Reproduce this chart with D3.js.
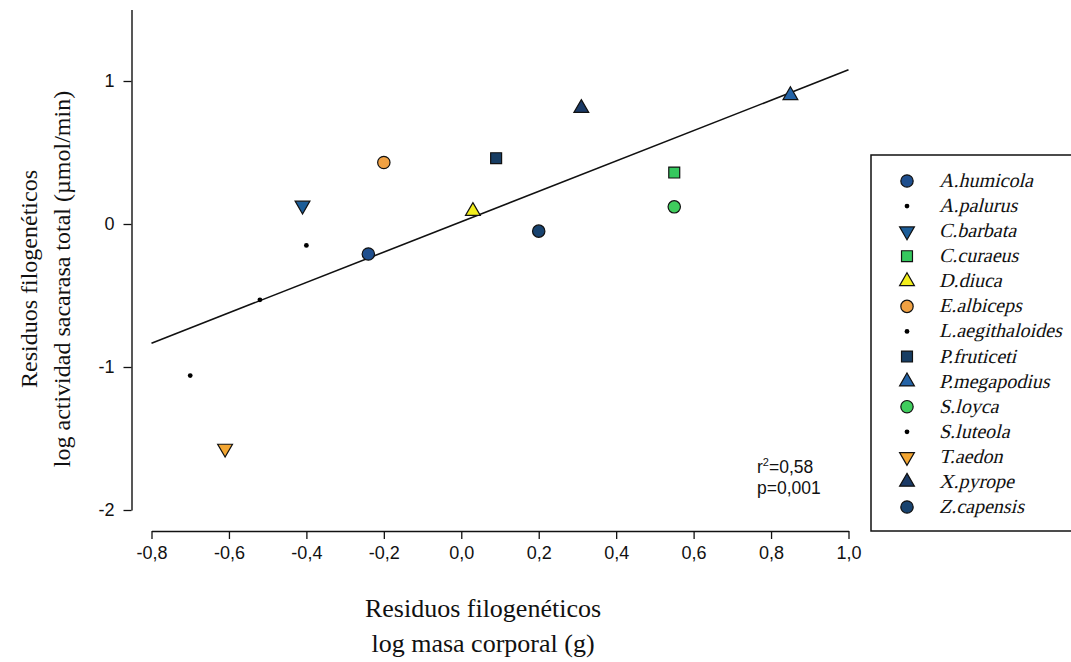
<!DOCTYPE html>
<html>
<head>
<meta charset="utf-8">
<script src="https://cdn.jsdelivr.net/npm/d3@7"></script>
<style>
  html, body { margin: 0; padding: 0; background: #fff; }
  svg { display: block; }
  .serif { font-family: "Liberation Serif", "Times New Roman", Times, serif; }
  .sans { font-family: "Liberation Sans", Arial, Helvetica, sans-serif; }
</style>
</head>
<body>
<svg id="chart" width="1071" height="662"></svg>
<script>
// Species and their phylogenetic residuals
const species = ["A.humicola", "A.palurus", "C.barbata", "C.curaeus", "D.diuca", "E.albiceps",
  "L.aegithaloides", "P.fruticeti", "P.megapodius", "S.loyca", "S.luteola", "T.aedon",
  "X.pyrope", "Z.capensis"];
const massResidual = [-0.24, -0.40, -0.41, 0.55, 0.03, -0.20, -0.52, 0.09, 0.85, 0.55, -0.70, -0.61, 0.31, 0.20];
const sucraseResidual = [-0.21, -0.15, 0.13, 0.36, 0.09, 0.43, -0.53, 0.46, 0.90, 0.12, -1.06, -1.57, 0.81, -0.05];
const markerShape = ["circle", "dot", "triangleDown", "square", "triangle", "circle",
  "dot", "square", "triangle", "circle", "dot", "triangleDown", "triangle", "circle"];
const markerColor = ["#1f4f8e", "#000000", "#1c5d98", "#35c85e", "#f2ee1c", "#f0a143",
  "#000000", "#173d63", "#2463a6", "#3fcd5d", "#000000", "#f3a632", "#1b3a66", "#18436f"];

// Fitted regression line
const fitSlope = 1.062;
const fitIntercept = 0.016;
const fitRange = [-0.8, 1.0];

const xTicks = [-0.8, -0.6, -0.4, -0.2, 0.0, 0.2, 0.4, 0.6, 0.8, 1.0];
const yTicks = [-2, -1, 0, 1];

const svg = d3.select("#chart");
const x = d3.scaleLinear().domain([-0.8, 1.0]).range([151.5, 848.5]);
const y = d3.scaleLinear().domain([-2, 1.5]).range([510, 9.5]);

const commaFmt = d => d3.format(".1f")(d).replace(".", ",").replace("−", "-");

// X axis (offset below the plot)
const xAxis = svg.append("g").attr("transform", "translate(0,531)")
  .call(d3.axisBottom(x).tickValues(xTicks).tickFormat(commaFmt).tickSize(8).tickSizeOuter(0).tickPadding(7));
// Y axis (offset left of the plot)
const yAxis = svg.append("g").attr("transform", "translate(131.5,0)")
  .call(d3.axisLeft(y).tickValues(yTicks).tickFormat(d => String(d)).tickSize(8).tickSizeOuter(0).tickPadding(9));

[xAxis, yAxis].forEach(g => {
  g.attr("font-family", null).attr("font-size", null);
  g.select(".domain").attr("stroke", "#111").attr("stroke-width", 1.4);
  g.selectAll(".tick line").attr("stroke", "#111").attr("stroke-width", 1.3);
  g.selectAll(".tick text").attr("fill", "#111").attr("class", "sans").style("font-size", "18px");
});

// Regression line
svg.append("line")
  .attr("x1", x(fitRange[0])).attr("y1", y(fitIntercept + fitSlope * fitRange[0]))
  .attr("x2", x(fitRange[1])).attr("y2", y(fitIntercept + fitSlope * fitRange[1]))
  .attr("stroke", "#111").attr("stroke-width", 1.6);

const symbolFor = {
  circle: d3.symbol().type(d3.symbolCircle).size(120),
  dot: d3.symbol().type(d3.symbolCircle).size(18),
  square: d3.symbol().type(d3.symbolSquare).size(120),
  triangle: d3.symbol().type(d3.symbolTriangle).size(95),
  triangleDown: d3.symbol().type(d3.symbolTriangle).size(95)
};

function drawMarker(g, shape, color) {
  g.append("path")
    .attr("d", symbolFor[shape]())
    .attr("transform", shape === "triangleDown" ? "rotate(180)" : null)
    .attr("fill", color)
    .attr("stroke", shape === "dot" ? "none" : "#111")
    .attr("stroke-width", 1.2);
}

// Data points
const idx = d3.range(species.length);
svg.append("g").selectAll("g").data(idx).join("g")
  .attr("transform", i => `translate(${x(massResidual[i])},${y(sucraseResidual[i])})`)
  .each(function(i) { drawMarker(d3.select(this), markerShape[i], markerColor[i]); });

// Statistics annotation
const stats = svg.append("text").attr("class", "sans")
  .style("font-size", "17.5px").attr("fill", "#111");
const r2 = stats.append("tspan").attr("x", 757).attr("y", 473);
r2.append("tspan").text("r");
r2.append("tspan").attr("dy", -7).style("font-size", "11px").text("2");
r2.append("tspan").attr("dy", 7).text("=0,58");
stats.append("tspan").attr("x", 757).attr("y", 494).text("p=0,001");

// Legend
const legend = svg.append("g");
legend.append("rect").attr("x", 871).attr("y", 155).attr("width", 215).attr("height", 376)
  .attr("fill", "#fff").attr("stroke", "#111").attr("stroke-width", 1.5);
const rowY = d3.scaleLinear().domain([0, species.length - 1]).range([181, 507]);
const rows = legend.selectAll("g.row").data(idx).join("g").attr("class", "row")
  .attr("transform", i => `translate(907,${rowY(i)})`);
rows.each(function(i) { drawMarker(d3.select(this), markerShape[i], markerColor[i]); });
// species names in slanted serif type
rows.append("text").attr("class", "serif")
  .attr("transform", "translate(32,6) skewX(-14)")
  .style("font-size", "20px").attr("fill", "#111")
  .text(i => species[i]);

// Axis titles
const xTitle = svg.append("text").attr("class", "serif").attr("text-anchor", "middle")
  .style("font-size", "26px").attr("fill", "#111");
xTitle.append("tspan").attr("x", 483).attr("y", 617).text("Residuos filogenéticos");
xTitle.append("tspan").attr("x", 483).attr("y", 652).text("log masa corporal (g)");

const yTitle = svg.append("text").attr("class", "serif").attr("text-anchor", "middle")
  .attr("transform", "translate(0,279) rotate(-90)")
  .style("font-size", "24px").attr("fill", "#111");
yTitle.append("tspan").attr("x", 0).attr("y", 37).text("Residuos filogenéticos");
yTitle.append("tspan").attr("x", 0).attr("y", 70).text("log actividad sacarasa total (µmol/min)");
</script>
</body>
</html>
